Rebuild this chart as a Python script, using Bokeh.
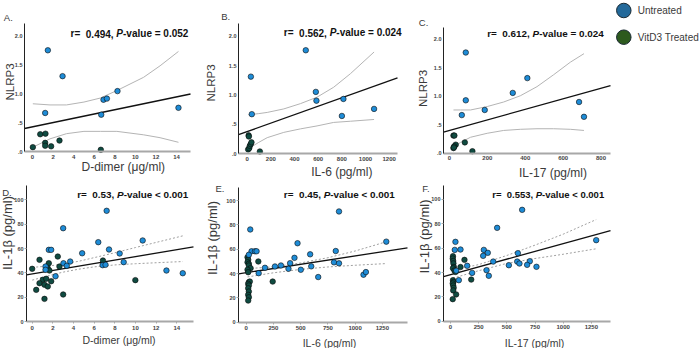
import math
from bokeh.plotting import figure
from bokeh.models import Range1d, Label, FixedTicker
from bokeh.layouts import row, column
from bokeh.embed import file_html
from bokeh.resources import INLINE
from bokeh.core.properties import value

# ---------------------------------------------------------------- data
group_names = ["Untreated", "VitD3 Treated"]
untreated_color = "#1e8cd7"
treated_color = "#0f4b41"
legend_colors = ["#23699a", "#2d5a1e"]

# A. D-dimer (ug/ml) vs NLRP3
a_untreated_x = [1.49, 2.92, 1.23, 6.68, 6.90, 7.23, 8.26, 14.19]
a_untreated_y = [1.76, 1.31, 0.67, 0.64, 0.90, 0.92, 1.05, 0.76]
a_treated_x = [0.03, 0.75, 1.26, 1.23, 1.23, 1.81, 2.62, 6.64]
a_treated_y = [0.075, 0.30, 0.31, 0.15, 0.10, 0.09, 0.19, 0.03]
a_fit_x = [-0.78, 15.36]
a_fit_y = [0.40, 1.00]
a_ci_x = [0.03, 1.7, 3.3, 5.0, 6.6, 8.2, 10.8, 12.4, 14.19]
a_ci_upper = [0.83, 0.81, 0.81, 0.86, 0.93, 1.06, 1.29, 1.49, 1.74]
a_ci_lower = [0.075, 0.22, 0.31, 0.35, 0.35, 0.35, 0.29, 0.24, 0.16]

# B. IL-6 (pg/ml) vs NLRP3
b_untreated_x = [495, 31, 39, 580, 585, 813, 800, 1072]
b_untreated_y = [1.76, 1.31, 0.67, 1.05, 0.90, 0.93, 0.64, 0.76]
b_treated_x = [12, 8, 17, 22, 30, 36, 107, 14]
b_treated_y = [0.31, 0.07, 0.09, 0.13, 0.16, 0.19, 0.034, 0.29]
b_fit_x = [-73.5, 1270]
b_fit_y = [0.32, 1.29]
b_ci_x = [8, 98, 169, 309, 450, 590, 731, 872, 1072]
b_ci_upper = [0.66, 0.68, 0.70, 0.76, 0.85, 0.96, 1.13, 1.36, 1.73]
b_ci_lower = [0.08, 0.19, 0.27, 0.36, 0.42, 0.47, 0.53, 0.55, 0.58]

# C. IL-17 (pg/ml) vs NLRP3
c_untreated_x = [86, 411, 334, 86, 186, 65, 684, 710]
c_untreated_y = [1.77, 1.32, 1.06, 0.93, 0.76, 0.67, 0.90, 0.64]
c_treated_x = [21, 26, 33, 25, 21, 81, 121, 23]
c_treated_y = [0.31, 0.31, 0.15, 0.12, 0.09, 0.19, 0.035, 0.10]
c_fit_x = [-31.6, 850]
c_fit_y = [0.37, 1.19]
c_ci_x = [21, 58, 111, 199, 286, 374, 462, 550, 638, 710]
c_ci_upper = [0.76, 0.76, 0.76, 0.82, 0.90, 1.01, 1.17, 1.38, 1.60, 1.75]
c_ci_lower = [0.10, 0.19, 0.28, 0.35, 0.40, 0.42, 0.43, 0.43, 0.42, 0.40]

# D. D-dimer (ug/ml) vs IL-1beta (pg/ml)
d_untreated_x = [3.00, 1.61, 1.84, 4.84, 3.68, 3.03, 3.35, 1.29, 1.29, 2.26,
                 7.21, 6.40, 10.70, 7.44, 8.47, 8.86, 6.82, 7.10, 13.00, 14.58]
d_untreated_y = [76.7, 58.9, 58.9, 56.1, 49.3, 47.9, 45.8, 45.2, 42.5, 37.2,
                 91.0, 65.2, 66.6, 59.2, 55.9, 48.8, 46.3, 46.6, 41.9, 39.7]
d_treated_x = [0.71, 2.48, 0.00, 1.61, 1.51, 1.67, 2.64, 1.03, 1.36, 0.71,
               1.84, 1.19, 1.51, 0.39, 1.19, 3.00, 6.85, 9.99]
d_treated_y = [50.7, 53.4, 43.3, 47.9, 43.8, 41.9, 45.2, 34.3, 35.1, 31.5,
               33.1, 30.2, 28.8, 26.0, 18.6, 22.2, 50.1, 34.0]
d_fit_x = [-0.55, 15.62]
d_fit_y = [38.4, 61.3]
d_ci_x = [0, 1.5, 3, 4.5, 6, 8, 10, 12, 14.58]
d_ci_upper = [44.5, 45.5, 47.2, 49.5, 52.5, 56.5, 60.8, 65.0, 70.4]
d_ci_lower = [34.0, 37.5, 40.6, 43.0, 44.9, 46.5, 47.5, 48.3, 49.3]

# E. IL-6 (pg/ml) vs IL-1beta (pg/ml)
e_untreated_x = [37, 49, 80, 95, 24, 471, 443, 403, 319, 264, 172, 388, 501, 114,
                 852, 587, 597, 661, 822, 806, 852, 1077, 1099, 1286]
e_untreated_y = [76.2, 58.3, 58.3, 58.3, 55.4, 64.9, 52.9, 48.5, 46.6, 45.8, 44.7, 43.9, 43.1, 40.3,
                 91.0, 55.8, 45.9, 37.1, 58.5, 49.2, 48.4, 39.0, 41.2, 66.2]
e_treated_x = [12, 18, 12, 24, 24, 40, 12, 18, 24, 33, 18, 24, 18, 24, 18, 24, 18, 111, 243]
e_treated_y = [53.4, 51.3, 49.3, 48.0, 46.6, 44.4, 43.1, 41.1, 32.9, 33.4, 31.5, 30.2, 27.9,
               25.2, 22.5, 20.5, 17.8, 49.9, 33.4]
e_fit_x = [-71, 1481]
e_fit_y = [39.7, 61.1]
e_ci_x = [12, 250, 500, 750, 1000, 1290]
e_ci_upper = [44.0, 45.5, 48.7, 53.0, 58.5, 66.2]
e_ci_lower = [37.2, 40.6, 43.4, 45.4, 46.8, 48.2]

# F. IL-17 (pg/ml) vs IL-1beta (pg/ml)
f_untreated_x = [636, 414, 44, 38, 89, 296, 331, 290, 598, 379, 592, 704, 612, 518,
                 680, 763, 148, 192, 320, 340, 74, 1293, 51]
f_untreated_y = [91.5, 76.7, 65.2, 58.6, 58.9, 58.6, 56.2, 53.7, 55.9, 49.0, 49.0, 49.3, 47.4, 46.0,
                 46.3, 44.7, 45.5, 39.7, 41.9, 37.3, 33.7, 66.6, 41.5]
f_treated_x = [22, 20, 24, 26, 30, 22, 35, 45, 22, 26, 20, 24, 28, 24, 50, 20, 124, 184, 89]
f_treated_y = [53.4, 51.5, 49.5, 47.5, 44.5, 43.5, 41.6, 40.5, 33.7, 32.2, 31.0, 29.3, 27.4,
               25.3, 22.0, 18.1, 50.4, 34.2, 44.5]
f_fit_x = [-62, 1420]
f_fit_y = [36.6, 74.5]
f_ci_x = [20, 250, 500, 750, 1000, 1293]
f_ci_upper = [42.0, 46.5, 54.0, 62.5, 71.5, 83.5]
f_ci_lower = [35.3, 41.5, 47.5, 51.5, 55.0, 59.5]

# correlation statistics printed on each panel: (r, p-value part)
a_stats = ("0.494", "= 0.052")
b_stats = ("0.562", "= 0.024")
c_stats = ("0.612", "= 0.024")
d_stats = ("0.53", "< 0.001")
e_stats = ("0.45", "< 0.001")
f_stats = ("0.553", "< 0.001")

# ticks
nlrp3_ticks = [0.0, 0.5, 1.0, 1.5, 2.0]
nlrp3_tick_labels = [".0", ".5", "1.0", "1.5", "2.0"]
il1b_ticks = [0, 20, 40, 60, 80, 100]
dimer_ticks = [0, 2, 4, 6, 8, 10, 12, 14]
il6_ticks_top = [0, 200, 400, 600, 800, 1000, 1200]
il17_ticks_top = [0, 200, 400, 600, 800]
cyto_ticks_bottom = [0, 250, 500, 750, 1000, 1250]

# ---------------------------------------------------------------- style
FONT = "Liberation Sans"
TEXT_DARK = "#3a3a3a"

# Liberation Sans Bold advance widths (per 1000 em) used to lay out the stats line
BOLD_W = {c: 556 for c in "0123456789"}
BOLD_W.update({".": 278, ",": 278, " ": 278, "r": 389, "=": 584, "<": 584,
               "P": 667, "-": 333, "v": 556, "a": 556, "l": 278, "u": 611, "e": 556})


def bold_width(s, size):
    return sum(BOLD_W[ch] for ch in s) * size / 1000.0


def page_label(p, canvas, x, y, text, size, style="normal", color=TEXT_DARK,
               align="left", angle=0.0):
    # (x, y) are page pixels; the frame fills the whole canvas, so screen units
    # are measured from the canvas' lower-left corner
    cl, ct, cr, cb = canvas
    p.add_layout(Label(x=x - cl, y=cb - y, x_units="screen", y_units="screen",
                       text=text, text_font=FONT, text_font_size=f"{size}px",
                       text_font_style=style, text_color=color, angle=angle,
                       text_align=align, text_baseline="middle"))


def stats_line(p, canvas, x0, y0, stats, size):
    r_txt, p_txt = stats
    col = "#111111"
    page_label(p, canvas, x0, y0, "r=", size, "bold", col)
    x1 = x0 + bold_width("r=  ", size)
    page_label(p, canvas, x1, y0, r_txt + ",", size, "bold", col)
    x2 = x1 + bold_width(r_txt + ", ", size)
    page_label(p, canvas, x2, y0, "P", size, "bold italic", col)
    x3 = x2 + bold_width("P", size)
    page_label(p, canvas, x3, y0, "-value " + p_txt, size, "bold", col)


def style_axis(ax, ticks, tick_out, standoff, font_size):
    ax.ticker = FixedTicker(ticks=ticks)
    ax.major_tick_out = tick_out
    ax.major_tick_in = 0
    ax.major_tick_line_color = "#a8a8a8"
    ax.minor_tick_line_color = None
    ax.major_label_standoff = standoff
    ax.major_label_text_font = FONT
    ax.major_label_text_font_size = font_size
    ax.major_label_text_font_style = "bold"
    ax.major_label_text_color = "#444444"


def build_panel(spec):
    cl, ct, cr, cb = spec["canvas"]
    al, at, ar, ab = spec["area"]
    x0, x1 = spec["xr"]
    y0, y1 = spec["yr"]
    kx = (ar - al) / (x1 - x0)
    ky = (ab - at) / (y1 - y0)
    # the frame spans the full canvas; the axes sit at the edges of the plotting area
    p = figure(width=cr - cl, height=cb - ct,
               x_range=Range1d(x0 - (al - cl) / kx, x1 + (cr - ar) / kx),
               y_range=Range1d(y0 - (cb - ab) / ky, y1 + (at - ct) / ky),
               output_backend="svg", toolbar_location=None, min_border=0)
    p.title.visible = False
    p.outline_line_color = None
    p.grid.visible = False
    p.background_fill_color = "white"
    p.border_fill_color = "white"

    bottom_row = spec["bottom_row"]
    tick_out = 2 if bottom_row else 0

    xa = p.xaxis[0]
    xa.fixed_location = y0
    xa.bounds = (x0, x1)
    style_axis(xa, spec["xticks"], tick_out, 3 if not bottom_row else 2, "6px")
    xa.axis_line_color = "#a8a8a8"
    xa.axis_line_width = 2

    ya = p.yaxis[0]
    ya.fixed_location = x0
    ya.bounds = (y0, y1)
    style_axis(ya, spec["yticks"], tick_out, 1 if bottom_row else 2, "5.5px")
    if spec.get("ytick_labels"):
        ya.major_label_overrides = {float(t): lab for t, lab in zip(spec["yticks"], spec["ytick_labels"])}
    ya.axis_line_color = "#222222"
    ya.axis_line_width = 1

    # confidence band, fitted line, then the two groups of points
    if bottom_row:
        ci_kw = dict(line_color="#a0a0a0", line_width=1, line_dash="2 2")
    else:
        ci_kw = dict(line_color="#b4b4b4", line_width=1)
    p.line(spec["ci_x"], spec["ci_upper"], **ci_kw)
    p.line(spec["ci_x"], spec["ci_lower"], **ci_kw)
    p.line(spec["fit_x"], spec["fit_y"], line_color="#111111", line_width=1.3)
    p.scatter(spec["tx"], spec["ty"], size=5.5, fill_color=treated_color,
              line_color="#0a0a0a", line_width=0.6)
    p.scatter(spec["ux"], spec["uy"], size=5.5, fill_color=untreated_color,
              line_color="#0a0a0a", line_width=0.6)

    canvas = spec["canvas"]
    xl_x, xl_y = spec["xlabel_pos"]
    page_label(p, canvas, xl_x, xl_y, spec["xlabel"], spec["xlabel_size"], align="center")
    yl_x, yl_y = spec["ylabel_pos"]
    page_label(p, canvas, yl_x, yl_y, spec["ylabel"], spec["ylabel_size"], align="center",
               angle=math.pi / 2)
    lx, ly = spec["letter_pos"]
    page_label(p, canvas, lx, ly, spec["letter"], 9.5)
    sx, sy = spec["stats_pos"]
    stats_line(p, canvas, sx, sy, spec["stats"], spec["stats_size"])
    return p


panels = [
    dict(letter="A.", canvas=(0, 0, 198, 180), area=(24, 23, 190, 151),
         xr=(-0.78, 15.36), yr=(0, 2.226), xticks=dimer_ticks,
         yticks=nlrp3_ticks, ytick_labels=nlrp3_tick_labels,
         xlabel="D-dimer (\u03bcg/ml)", ylabel="NLRP3", xlabel_size=12, ylabel_size=11.5,
         xlabel_pos=(122.8, 166), ylabel_pos=(9.5, 81.5), bottom_row=False,
         ux=a_untreated_x, uy=a_untreated_y, tx=a_treated_x, ty=a_treated_y,
         fit_x=a_fit_x, fit_y=a_fit_y, ci_x=a_ci_x, ci_upper=a_ci_upper, ci_lower=a_ci_lower,
         letter_pos=(3.3, 17), stats_pos=(70, 33), stats=a_stats, stats_size=10),
    dict(letter="B.", canvas=(198, 0, 415, 180), area=(238, 23, 397, 153),
         xr=(-73.5, 1270), yr=(0, 2.216), xticks=il6_ticks_top,
         yticks=nlrp3_ticks, ytick_labels=nlrp3_tick_labels,
         xlabel="IL-6 (pg/ml)", ylabel="NLRP3", xlabel_size=12, ylabel_size=11.5,
         xlabel_pos=(341.3, 171.7), ylabel_pos=(210, 82.5), bottom_row=False,
         ux=b_untreated_x, uy=b_untreated_y, tx=b_treated_x, ty=b_treated_y,
         fit_x=b_fit_x, fit_y=b_fit_y, ci_x=b_ci_x, ci_upper=b_ci_upper, ci_lower=b_ci_lower,
         letter_pos=(220.7, 16.3), stats_pos=(283.3, 32.3), stats=b_stats, stats_size=10),
    dict(letter="C.", canvas=(415, 0, 612, 180), area=(443, 27, 610, 152.7),
         xr=(-31.6, 850), yr=(0, 2.21), xticks=il17_ticks_top,
         yticks=nlrp3_ticks, ytick_labels=nlrp3_tick_labels,
         xlabel="IL-17 (pg/ml)", ylabel="NLRP3", xlabel_size=12, ylabel_size=11.5,
         xlabel_pos=(552.5, 172.7), ylabel_pos=(422, 88), bottom_row=False,
         ux=c_untreated_x, uy=c_untreated_y, tx=c_treated_x, ty=c_treated_y,
         fit_x=c_fit_x, fit_y=c_fit_y, ci_x=c_ci_x, ci_upper=c_ci_upper, ci_lower=c_ci_lower,
         letter_pos=(418.3, 22.3), stats_pos=(486.7, 33.3), stats=c_stats, stats_size=9.9),
    dict(letter="D.", canvas=(0, 180, 200, 348), area=(26, 185, 193, 321),
         xr=(-0.55, 15.62), yr=(0, 111.8), xticks=dimer_ticks,
         yticks=il1b_ticks, ytick_labels=None,
         xlabel="D-dimer (\u03bcg/ml)", ylabel="IL-1\u03b2 (pg/ml)", xlabel_size=10.5, ylabel_size=13,
         xlabel_pos=(118.5, 339.3), ylabel_pos=(7, 232.5), bottom_row=True,
         ux=d_untreated_x, uy=d_untreated_y, tx=d_treated_x, ty=d_treated_y,
         fit_x=d_fit_x, fit_y=d_fit_y, ci_x=d_ci_x, ci_upper=d_ci_upper, ci_lower=d_ci_lower,
         letter_pos=(1.7, 192.3), stats_pos=(76.7, 194), stats=d_stats, stats_size=9.9),
    dict(letter="E.", canvas=(200, 180, 415, 348), area=(238, 187, 407, 321.7),
         xr=(-71, 1481), yr=(0, 110.7), xticks=cyto_ticks_bottom,
         yticks=il1b_ticks, ytick_labels=None,
         xlabel="IL-6 (pg/ml)", ylabel="IL-1\u03b2 (pg/ml)", xlabel_size=10.5, ylabel_size=13,
         xlabel_pos=(329, 342.3), ylabel_pos=(211.5, 237.5), bottom_row=True,
         ux=e_untreated_x, uy=e_untreated_y, tx=e_treated_x, ty=e_treated_y,
         fit_x=e_fit_x, fit_y=e_fit_y, ci_x=e_ci_x, ci_upper=e_ci_upper, ci_lower=e_ci_lower,
         letter_pos=(215, 188), stats_pos=(283.3, 194), stats=e_stats, stats_size=9.9),
    dict(letter="F.", canvas=(415, 180, 612, 348), area=(443, 185, 610, 320.7),
         xr=(-62, 1420), yr=(0, 111.5), xticks=cyto_ticks_bottom,
         yticks=il1b_ticks, ytick_labels=None,
         xlabel="IL-17 (pg/ml)", ylabel="IL-1\u03b2 (pg/ml)", xlabel_size=10.5, ylabel_size=13,
         xlabel_pos=(534, 342.3), ylabel_pos=(424, 236), bottom_row=True,
         ux=f_untreated_x, uy=f_untreated_y, tx=f_treated_x, ty=f_treated_y,
         fit_x=f_fit_x, fit_y=f_fit_y, ci_x=f_ci_x, ci_upper=f_ci_upper, ci_lower=f_ci_lower,
         letter_pos=(421.7, 188), stats_pos=(491.7, 194), stats=f_stats, stats_size=9.5),
]

figs = [build_panel(s) for s in panels]

# ---------------------------------------------------------------- group key
key = figure(width=88, height=180, x_range=Range1d(0, 88), y_range=Range1d(180, 0),
             output_backend="svg", toolbar_location=None, min_border=0)
key.title.visible = False
key.axis.visible = False
key.grid.visible = False
key.outline_line_color = None
key_rows = [10, 36.7]
key.scatter([11.3] * len(group_names), key_rows, size=14.5, fill_color=legend_colors,
            line_color="#1b2a33", line_width=1)
key.text([25.3] * len(group_names), key_rows, text=group_names,
         text_font=value(FONT), text_font_size=value("10px"),
         text_color=TEXT_DARK, text_baseline="middle", text_align="left")

layout = column(row(figs[0], figs[1], figs[2], key), row(figs[3], figs[4], figs[5]))

with open("out.html", "w") as fh:
    fh.write(file_html(layout, INLINE))
